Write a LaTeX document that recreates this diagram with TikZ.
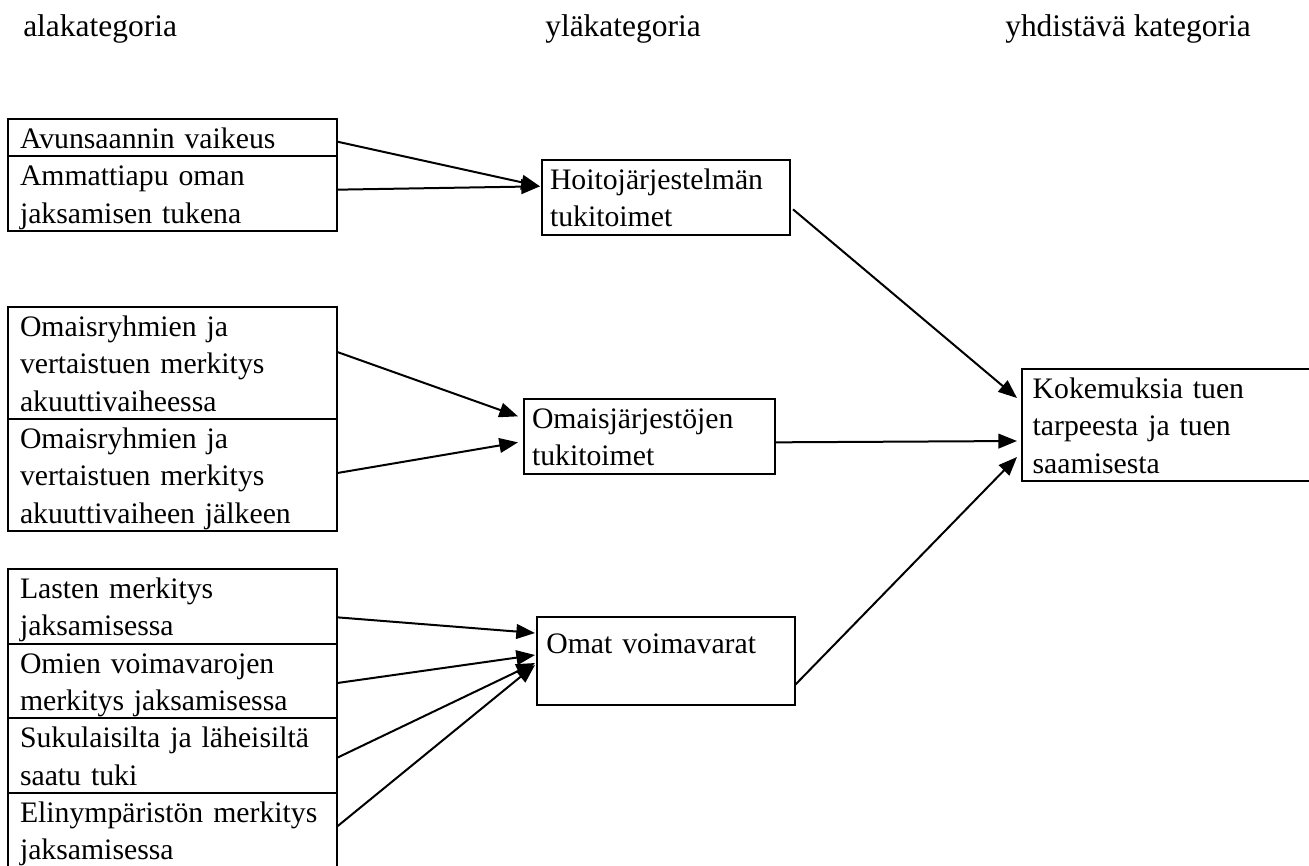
\documentclass[tikz,border=0pt]{standalone}
\usepackage{fontspec}
\setmainfont{Liberation Serif}
\usetikzlibrary{arrows.meta,calc}
\newcommand\ls{\rule[-6pt]{0pt}{28pt}}
\newcommand\cellfont{\fontsize{22.3pt}{28pt}\selectfont\hyphenpenalty=10000 }
\newcommand\headfont{\fontsize{23.6pt}{28pt}\selectfont}
\begin{document}
\begin{tikzpicture}[x=0.75pt,y=-0.75pt,
  cell/.style={draw, line width=1.5pt, anchor=north west, align=left,
    text width=229pt, inner xsep=9pt, inner ysep=0pt, outer sep=0pt, font=\cellfont},
  head/.style={anchor=base west, inner sep=0pt, font=\headfont},
  arr/.style={-{Triangle[length=14pt,width=11pt]}, line width=1.5pt}]
\clip (0,0) rectangle (1309,865);
\fill[white] (0,0) rectangle (1309,865);
% headers
\node[head] (h1) at (23,36) {alakategoria};
\node[head] (h2) at (545,36) {yläkategoria};
\node[head] (h3) at (1005,36) {yhdistävä kategoria};
% group 1
\node[cell] (g1a) at (8,119) {\ls Avunsaannin vaikeus};
\node[cell] (g1b) at (g1a.south west) {\ls Ammattiapu oman\\\ls jaksamisen tukena};
% group 2
\node[cell] (g2a) at (8,307) {\ls Omaisryhmien ja\\\ls vertaistuen merkitys\\\ls akuuttivaiheessa};
\node[cell] (g2b) at (g2a.south west) {\ls Omaisryhmien ja\\\ls vertaistuen merkitys\\\ls akuuttivaiheen jälkeen};
% group 3
\node[cell] (g3a) at (8,569) {\ls Lasten merkitys\\\ls jaksamisessa};
\node[cell] (g3b) at (g3a.south west) {\ls Omien voimavarojen\\\ls merkitys jaksamisessa};
\node[cell] (g3c) at (g3b.south west) {\ls Sukulaisilta ja läheisiltä\\\ls saatu tuki};
\node[cell] (g3d) at (g3c.south west) {\ls Elinympäristön merkitys\\\ls jaksamisessa};
% middle column
\node[cell, text width=174pt, inner xsep=6pt] (hoito) at (542,160) {\ls Hoitojärjestelmän\\\ls tukitoimet};
\node[cell, text width=176.25pt, inner xsep=6pt] (omais) at (524,399) {\ls Omaisjärjestöjen\\\ls tukitoimet};
\node[cell, text width=179.5pt, inner xsep=7pt, minimum height=66pt] (omat) at (537,617) {\ls Omat voimavarat\\\ls};
% right column
\node[cell, text width=215pt, inner xsep=8pt] (kok) at (1022,369) {\ls Kokemuksia tuen\\\ls tarpeesta ja tuen\\\ls saamisesta};
% arrows
\draw[arr] ($(g1a.east)+(0,4)$) -- ($(hoito.west)+(-2,-11)$);
\draw[arr] ($(g1b.east)+(0,-4)$) -- ($(hoito.west)+(-2,-11)$);
\draw[arr] ($(g2a.east)+(0,-11)$) -- ($(omais.west)+(-6,-20)$);
\draw[arr] ($(g2b.east)+(0,-2)$) -- ($(omais.west)+(-6,6)$);
\draw[arr] ($(g3a.east)+(0,11)$) -- ($(omat.west)+(-2,-28)$);
\draw[arr] ($(g3b.east)+(0,2)$) -- ($(omat.west)+(-2,-6)$);
\draw[arr] ($(g3c.east)+(0,2)$) -- ($(omat.west)+(-2,2)$);
\draw[arr] ($(g3d.east)+(0,-4)$) -- ($(omat.west)+(-2,4)$);
\draw[arr] ($(hoito.east)+(3,12)$) -- ($(kok.west)+(-5,-27)$);
\draw[arr] ($(omais.east)+(0,6)$) -- ($(kok.west)+(-5,16)$);
\draw[arr] ($(omat.east)+(0,24)$) -- ($(kok.west)+(-5,32)$);
\end{tikzpicture}
\end{document}
